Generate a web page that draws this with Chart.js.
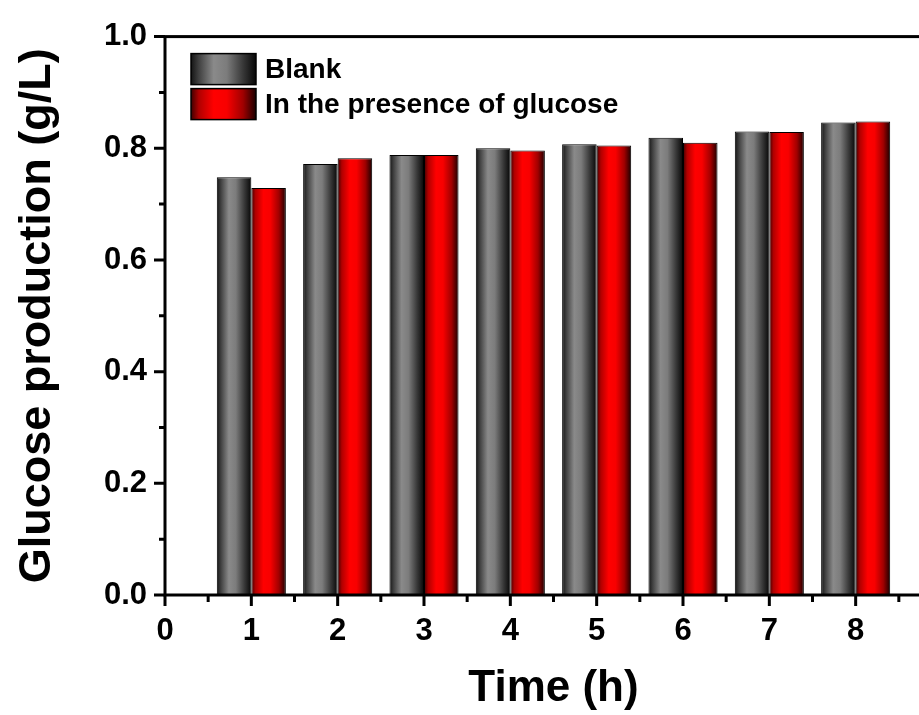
<!DOCTYPE html>
<html>
<head>
<meta charset="utf-8">
<script src="https://cdn.jsdelivr.net/npm/chart.js@4.4.1/dist/chart.umd.min.js"></script>
<style>
  html, body { margin: 0; padding: 0; background: #fff; overflow: hidden; }
  #wrap { width: 919px; height: 715px; overflow: hidden; }
</style>
</head>
<body>
<div id="wrap"><canvas id="chart" width="960" height="715"></canvas></div>
<script>
// values
const times = [1, 2, 3, 4, 5, 6, 7, 8];
const blankValues = [0.748, 0.772, 0.788, 0.800, 0.807, 0.819, 0.830, 0.846];
const glucoseValues = [0.729, 0.782, 0.788, 0.796, 0.805, 0.810, 0.829, 0.848];
const seriesLabels = ['Blank', 'In the presence of glucose'];
const xTickLabels = [0, 1, 2, 3, 4, 5, 6, 7, 8];
const yTickLabels = [0, 0.2, 0.4, 0.6, 0.8, 1.0];

const FONT = "'Liberation Sans', Arial, sans-serif";
const catPct = 0.8;

const grayStops = [[0, '#141414'], [0.12, '#404040'], [0.35, '#8a8a8a'], [0.55, '#7c7c7c'], [0.8, '#383838'], [1, '#060606']];
const redStops = [[0, '#400000'], [0.12, '#b00000'], [0.35, '#ff0000'], [0.55, '#f80000'], [0.8, '#a00000'], [1, '#1a0000']];

function makeGradient(ctx, left, right, stops) {
    const g = ctx.createLinearGradient(left, 0, right, 0);
    stops.forEach(([o, c]) => g.addColorStop(o, c));
    return g;
}

function barFill(stops, side) {
    return (c) => {
        const x = c.chart.scales.x;
        if (!x || c.type !== 'data') return stops[3][1];
        const center = x.getPixelForValue(c.raw.x);
        const barW = (x.getPixelForValue(1) - x.getPixelForValue(0)) * catPct / 2;
        if (!isFinite(center) || !isFinite(barW)) return stops[3][1];
        const left = side === 0 ? center - barW : center;
        return makeGradient(c.chart.ctx, left, left + barW, stops);
    };
}

const frameAndLegend = {
    id: 'frameAndLegend',
    afterDatasetsDraw(chart) {
        const { ctx, chartArea: a, scales: { x, y } } = chart;
        ctx.save();
        ctx.strokeStyle = '#000';
        ctx.lineCap = 'butt';

        // y ticks, major + minor
        ctx.lineWidth = 3;
        ctx.beginPath();
        yTickLabels.forEach((v, i) => {
            const py = y.getPixelForValue(v);
            ctx.moveTo(a.left - 11, py); ctx.lineTo(a.left, py);
            if (i < yTickLabels.length - 1) {
                const pm = y.getPixelForValue((v + yTickLabels[i + 1]) / 2);
                ctx.moveTo(a.left - 6, pm); ctx.lineTo(a.left, pm);
            }
        });
        // x ticks, major + minor
        xTickLabels.forEach((v) => {
            const px = x.getPixelForValue(v);
            ctx.moveTo(px, a.bottom); ctx.lineTo(px, a.bottom + 11);
            const pm = x.getPixelForValue(v + 0.5);
            ctx.moveTo(pm, a.bottom); ctx.lineTo(pm, a.bottom + 7);
        });
        ctx.stroke();

        // frame
        ctx.lineWidth = 3;
        ctx.strokeRect(a.left, a.top, a.right - a.left, a.bottom - a.top);

        // legend
        const lx = a.left + 26, ly = a.top + 17, bw = 65, bh = 31, gap = 4;
        [grayStops, redStops].forEach((stops, i) => {
            const by = ly + i * (bh + gap);
            ctx.fillStyle = makeGradient(ctx, lx, lx + bw, stops);
            ctx.fillRect(lx, by, bw, bh);
            ctx.lineWidth = 1.5;
            ctx.strokeRect(lx, by, bw, bh);
            ctx.fillStyle = '#000';
            ctx.font = 'bold 28px ' + FONT;
            ctx.textBaseline = 'middle';
            ctx.textAlign = 'left';
            ctx.fillText(seriesLabels[i], lx + bw + 9, by + bh / 2 + 1);
        });
        ctx.restore();
    }
};

new Chart(document.getElementById('chart'), {
    type: 'bar',
    data: {
        datasets: [
            {
                label: seriesLabels[0],
                data: times.map((t, i) => ({ x: t, y: blankValues[i] })),
                backgroundColor: barFill(grayStops, 0),
                borderColor: '#000',
                borderWidth: 1,
                categoryPercentage: catPct,
                barPercentage: 1
            },
            {
                label: seriesLabels[1],
                data: times.map((t, i) => ({ x: t, y: glucoseValues[i] })),
                backgroundColor: barFill(redStops, 1),
                borderColor: '#000',
                borderWidth: 1,
                categoryPercentage: catPct,
                barPercentage: 1
            }
        ]
    },
    options: {
        responsive: false,
        devicePixelRatio: 1,
        animation: false,
        layout: { padding: { top: 31, right: 13, left: 2, bottom: 0 } },
        plugins: { legend: { display: false }, tooltip: { enabled: false } },
        scales: {
            x: {
                type: 'linear',
                min: 0,
                max: 9,
                offset: false,
                grid: { display: false, drawTicks: false, offset: false },
                border: { display: false },
                afterFit: (s) => { s.height = 120; },
                ticks: {
                    stepSize: 1,
                    autoSkip: false,
                    maxRotation: 0,
                    padding: 18,
                    color: '#000',
                    font: { family: FONT, size: 31, weight: 'bold' },
                    callback: (v) => xTickLabels.includes(v) ? String(v) : ''
                },
                title: {
                    display: true,
                    text: 'Time (h)',
                    color: '#000',
                    padding: { top: 0, bottom: 0 },
                    font: { family: FONT, size: 44, weight: 'bold' }
                }
            },
            y: {
                min: 0,
                max: 1,
                grid: { display: false, drawTicks: false },
                border: { display: false },
                afterFit: (s) => { s.width = 163; },
                ticks: {
                    stepSize: 0.2,
                    padding: 18,
                    color: '#000',
                    font: { family: FONT, size: 31, weight: 'bold' },
                    callback: (v) => Number(v).toFixed(1)
                },
                title: {
                    display: true,
                    text: 'Glucose production (g/L)',
                    color: '#000',
                    padding: { top: 9, bottom: 0 },
                    font: { family: FONT, size: 45, weight: 'bold' }
                }
            }
        }
    },
    plugins: [frameAndLegend]
});
</script>
</body>
</html>
